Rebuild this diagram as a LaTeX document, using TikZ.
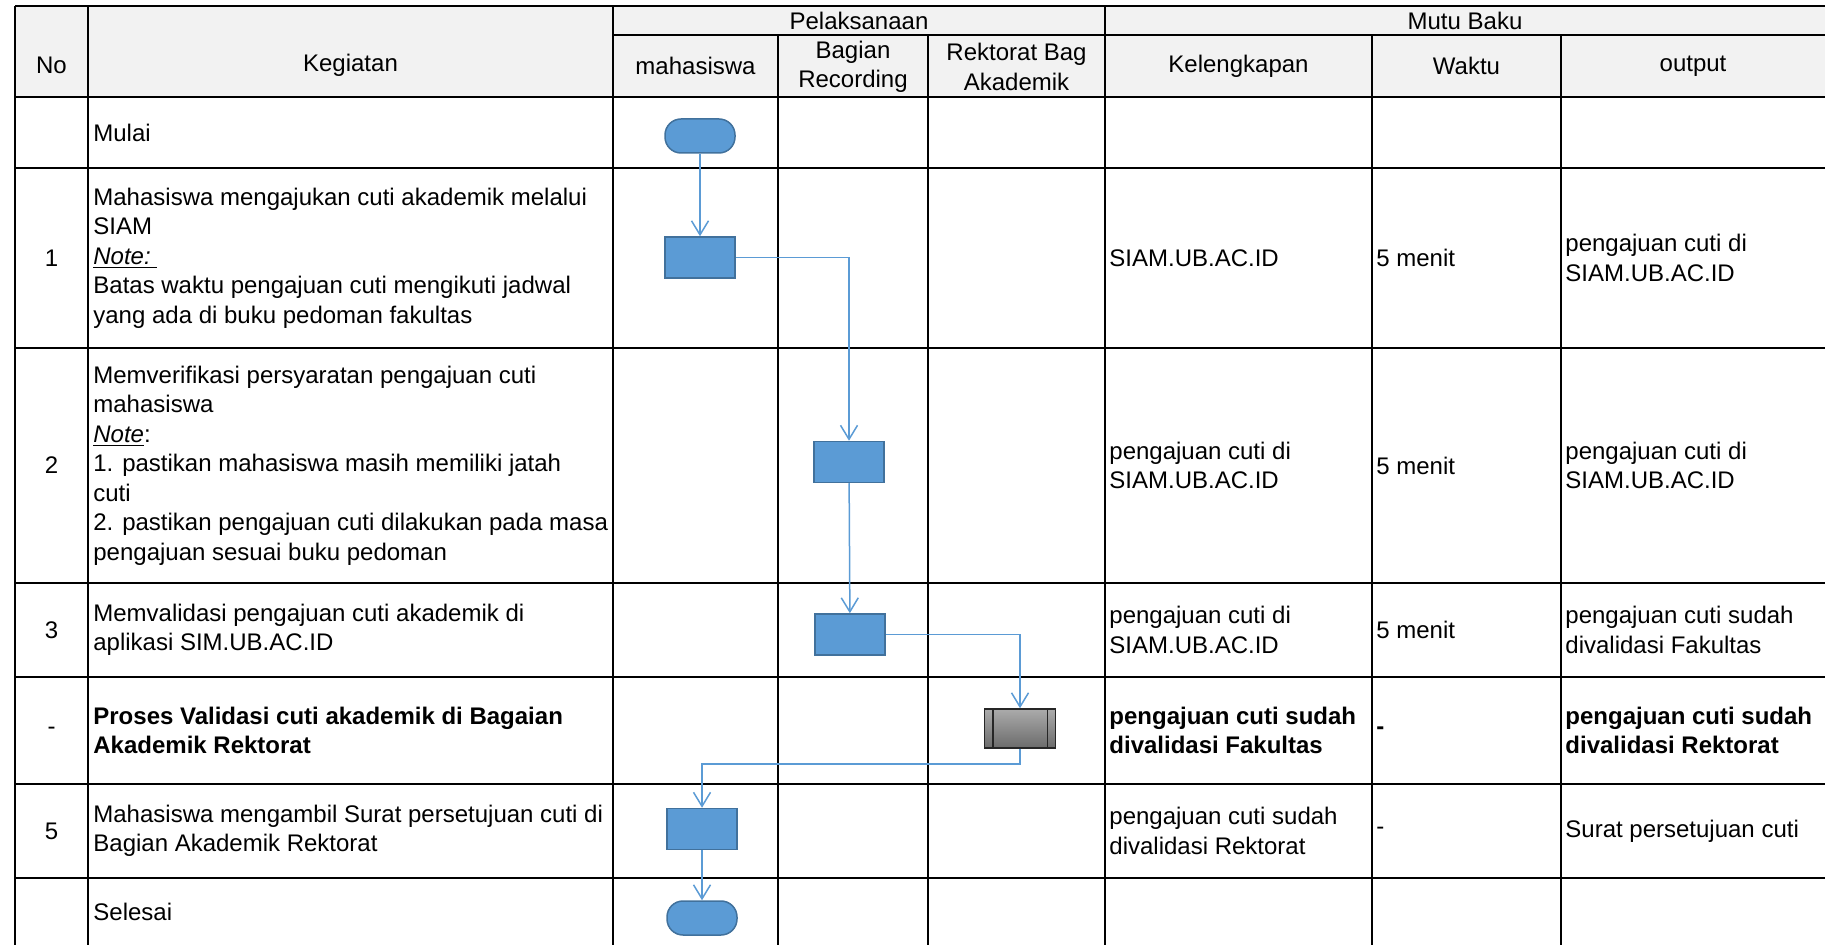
\documentclass[tikz,border=0pt]{standalone}
\usepackage{fontspec}
\setmainfont{Liberation Sans}
\usetikzlibrary{arrows.meta,positioning,calc}
\definecolor{boxblue}{HTML}{5B9BD5}
\definecolor{boxedge}{HTML}{41719C}
\definecolor{headgray}{HTML}{F2F2F2}
\tikzset{
  cell/.style={inner sep=0pt,font=\fontsize{12}{14.75}\selectfont},
  lcell/.style={cell,anchor=west,align=left},
  ccell/.style={cell,align=center},
  bcell/.style={lcell,font=\fontsize{12}{14.75}\selectfont\bfseries},
  act/.style={draw=boxedge,fill=boxblue,line width=0.75pt,minimum width=35pt,minimum height=20.5pt,inner sep=0pt},
  term/.style={act,rounded corners=8pt,minimum height=17pt},
  subproc/.style={draw=black!85,line width=0.75pt,top color=black!33,bottom color=black!58,minimum width=35.5pt,minimum height=19.5pt,inner sep=0pt},
  flow/.style={draw=boxblue,line width=0.75pt,-{Straight Barb[length=7pt,width=8.5pt]}}
}
\begin{document}
\begin{tikzpicture}[x=0.5pt,y=-0.5pt]
\useasboundingbox (0,0) rectangle (1825,945);
  % grid
  \fill[headgray] (15,6) rectangle (1825,97);
  \draw[line width=1pt]
        (15,6)   -- (1825,6)
        (613,35) -- (1825,35)
        (15,97)  -- (1825,97);
  \foreach \y in {168,348,583,677,784,878}
    \draw[line width=1pt] (15,\y) -- (1825,\y);
  \foreach \x in {15,88,613,1105}
    \draw[line width=1pt] (\x,6) -- (\x,945);
  \foreach \x in {778,928,1372,1561}
    \draw[line width=1pt] (\x,35) -- (\x,945);

  % header
  \node[ccell] (no)   at (51.5,65)    {No};
  \node[ccell] (keg)  at (350.5,65)   {Kegiatan};
  \node[ccell] (pel)  at (859,20.5)   {Pelaksanaan};
  \node[ccell] (mutu) at (1465,20.5)  {Mutu Baku};
  \node[ccell] (mhs)  at (695.5,66)   {mahasiswa};
  \node[ccell] (rec)  at (853,67)     {Bagian\\Recording};
  \node[ccell] (rek)  at (1016.5,67)  {Rektorat Bag\\Akademik};
  \node[ccell] (kel)  at (1238.5,66)  {Kelengkapan};
  \node[ccell] (wkt)  at (1466.5,66)  {Waktu};
  \node[ccell] (out)  at (1693,66)    {output};

  % rows
  \node[lcell] (k0) at (93,132.5) {Mulai};
  \node[ccell] (n1) at (51.5,258) {1};
  \node[lcell] (k1) at (93,258) {Mahasiswa mengajukan cuti akademik melalui\\SIAM\\\underline{\textit{Note:}\ }\\Batas waktu pengajuan cuti mengikuti jadwal\\yang ada di buku pedoman fakultas};
  \node[lcell] (l1) at (1109,258) {SIAM.UB.AC.ID};
  \node[lcell] (w1) at (1376,258) {5 menit};
  \node[lcell] (o1) at (1565,258) {pengajuan cuti di\\SIAM.UB.AC.ID};
  \node[ccell] (n2) at (51.5,465.5) {2};
  \node[lcell] (k2) at (93,465.5) {Memverifikasi persyaratan pengajuan cuti\\mahasiswa\\\underline{\textit{Note}}:\\1. pastikan mahasiswa masih memiliki jatah\\cuti\\2. pastikan pengajuan cuti dilakukan pada masa\\pengajuan sesuai buku pedoman};
  \node[lcell] (l2) at (1109,465.5) {pengajuan cuti di\\SIAM.UB.AC.ID};
  \node[lcell] (w2) at (1376,465.5) {5 menit};
  \node[lcell] (o2) at (1565,465.5) {pengajuan cuti di\\SIAM.UB.AC.ID};
  \node[ccell] (n3) at (51.5,630) {3};
  \node[lcell] (k3) at (93,630) {Memvalidasi pengajuan cuti akademik di\\aplikasi SIM.UB.AC.ID};
  \node[lcell] (l3) at (1109,630) {pengajuan cuti di\\SIAM.UB.AC.ID};
  \node[lcell] (w3) at (1376,630) {5 menit};
  \node[lcell] (o3) at (1565,630) {pengajuan cuti sudah\\divalidasi Fakultas};
  \node[ccell] (n4) at (51.5,730.5) {-};
  \node[bcell] (k4) at (93,730.5) {Proses Validasi cuti akademik di Bagaian\\Akademik Rektorat};
  \node[bcell] (l4) at (1109,730.5) {pengajuan cuti sudah\\divalidasi Fakultas};
  \node[bcell] (w4) at (1376,730.5) {-};
  \node[bcell] (o4) at (1565,730.5) {pengajuan cuti sudah\\divalidasi Rektorat};
  \node[ccell] (n5) at (51.5,831) {5};
  \node[lcell] (k5) at (93,831) {Mahasiswa mengambil Surat persetujuan cuti di\\Bagian Akademik Rektorat};
  \node[lcell] (l5) at (1109,831) {pengajuan cuti sudah\\divalidasi Rektorat};
  \node[lcell] (w5) at (1376,831) {-};
  \node[lcell] (o5) at (1565,831) {Surat persetujuan cuti};
  \node[lcell] (k6) at (93,911.5) {Selesai};

  % flow
  \node[term] (mulai) at (700,136) {};
  \node[act]  (a1)    at (700,257.5) {};
  \node[act]  (a2)    at (849,462) {};
  \node[act]  (a3)    at (850,634.5) {};
  \node[subproc] (a4) at (1020,728.5) {};
  \draw[line width=0.75pt,black!85] ($(a4.north west)+(9,0)$) -- ($(a4.south west)+(9,0)$)
        ($(a4.north east)+(-9,0)$) -- ($(a4.south east)+(-9,0)$);
  \node[act]  (a5)    at (702,829) {};
  \node[term] (akhir) at (702,918) {};
  \draw[flow] (mulai) -- (a1);
  \draw[flow] (a1.east) -| (a2.north);
  \draw[flow] (a2) -- (a3);
  \draw[flow] (a3.east) -| (a4.north);
  \draw[flow] (a4.south) -- ++(0,15) -| (a5.north);
  \draw[flow] (a5) -- (akhir);
\end{tikzpicture}
\end{document}
